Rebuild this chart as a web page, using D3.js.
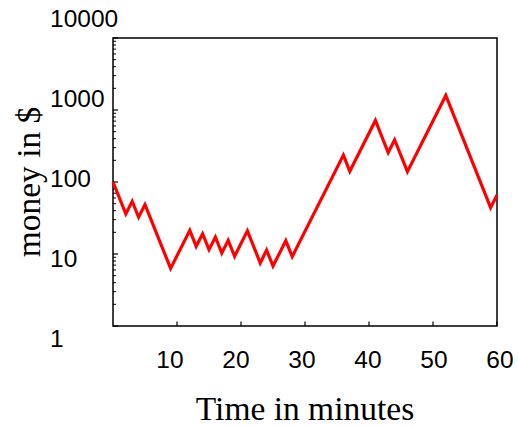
<!DOCTYPE html>
<html>
<head>
<meta charset="utf-8">
<script src="https://cdn.jsdelivr.net/npm/d3@7"></script>
<style>
  html, body { margin: 0; padding: 0; background: #fff; }
  svg { display: block; }
</style>
</head>
<body>
<svg id="chart" width="518" height="427"></svg>
<script>
// Data: turning points of the money random walk (minute, dollars)
const minutes = [0, 2, 3, 4, 5, 9, 12, 13, 14, 15, 16, 17, 18, 19, 21, 23, 24, 25, 27, 28, 36, 37, 41, 43, 44, 46, 52, 59, 60];
const money   = [100, 36, 54, 32.4, 48.6, 6.3, 21.3, 12.8, 19.1, 11.5, 17.2, 10.3, 15.5, 9.3, 21, 7.5, 11.3, 6.8, 15.3, 9.2, 236, 141, 715, 257, 386, 139, 1590, 44, 66];
const xTicks = [10, 20, 30, 40, 50, 60];
const yTicks = [1, 10, 100, 1000, 10000];
const yTickLabels = ["1", "10", "100", "1000", "10000"];
const xLabel = "Time in minutes";
const yLabel = "money in $";

const svg = d3.select("#chart");
const L = 113, R = 497, T = 38, B = 326;

const x = d3.scaleLinear().domain([0, 60]).range([L, R]);
const y = d3.scaleLog().domain([1, 10000]).range([B, T]);
// label placement scales (labels in the reference are spread slightly wider than the ticks)
const xLab = d3.scaleLinear().domain([0, 60]).range([104, 500]);
const yLab = d3.scaleLog().domain([1, 10000]).range([338, 18]);

const sans = "'Liberation Sans', Arial, sans-serif";
const serif = "'Liberation Serif', 'Times New Roman', serif";

// frame
svg.append("rect")
  .attr("x", L).attr("y", T).attr("width", R - L).attr("height", B - T)
  .attr("fill", "none").attr("stroke", "#000").attr("stroke-width", 1.5);

// y ticks (major + minor), pointing inward
const minor = [];
for (let d = 1; d < 10000; d *= 10) for (let k = 2; k <= 9; k++) minor.push(d * k);
svg.append("g").selectAll("line.minor").data(minor).join("line")
  .attr("x1", L).attr("x2", L + 3)
  .attr("y1", d => y(d)).attr("y2", d => y(d))
  .attr("stroke", "#000").attr("stroke-width", 1);
svg.append("g").selectAll("line.major").data(yTicks).join("line")
  .attr("x1", L).attr("x2", L + 5)
  .attr("y1", d => y(d)).attr("y2", d => y(d))
  .attr("stroke", "#000").attr("stroke-width", 1.2);

// x ticks, pointing inward from bottom
svg.append("g").selectAll("line").data(xTicks).join("line")
  .attr("x1", d => x(d)).attr("x2", d => x(d))
  .attr("y1", B).attr("y2", B - 4.5)
  .attr("stroke", "#000").attr("stroke-width", 1.2);

// y tick labels (left aligned)
svg.append("g").selectAll("text").data(yTicks).join("text")
  .attr("x", 50).attr("y", d => yLab(d) + 9)
  .attr("font-family", sans).attr("font-size", 24.5).attr("fill", "#000")
  .text((d, i) => yTickLabels[i]);

// x tick labels
svg.append("g").selectAll("text").data(xTicks).join("text")
  .attr("x", d => xLab(d)).attr("y", 368)
  .attr("text-anchor", "middle")
  .attr("font-family", sans).attr("font-size", 24.5).attr("fill", "#000")
  .text(d => d);

// axis titles
svg.append("text")
  .attr("x", 305).attr("y", 420)
  .attr("text-anchor", "middle")
  .attr("font-family", serif).attr("font-size", 33.5).attr("fill", "#000")
  .text(xLabel);
svg.append("text")
  .attr("transform", "translate(40,182) rotate(-90)")
  .attr("text-anchor", "middle")
  .attr("font-family", serif).attr("font-size", 33.5).attr("fill", "#000")
  .text(yLabel);

// line
const pts = minutes.map((m, i) => [m, money[i]]);
svg.append("path")
  .datum(pts)
  .attr("fill", "none").attr("stroke", "#ff0000").attr("stroke-width", 3.2)
  .attr("stroke-linejoin", "miter")
  .attr("d", d3.line().x(d => x(d[0])).y(d => y(d[1])));
</script>
</body>
</html>
